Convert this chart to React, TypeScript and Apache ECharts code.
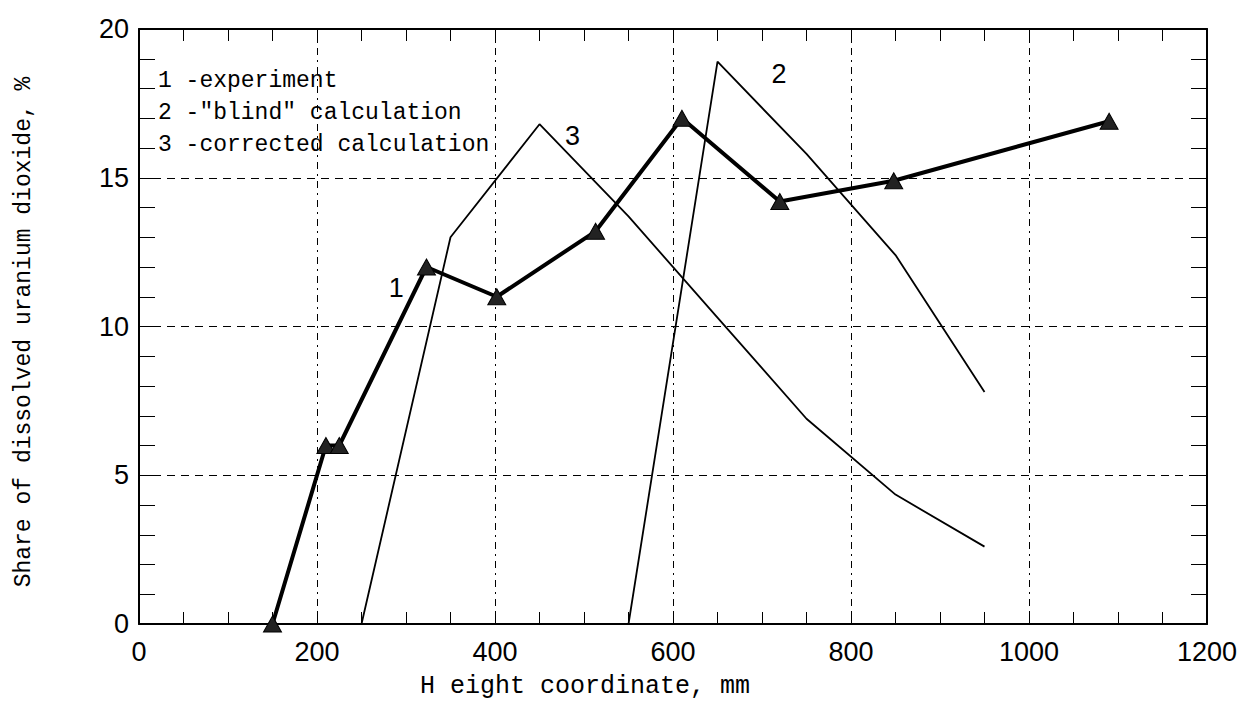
import React, { useEffect, useRef } from "react";
import * as echarts from "echarts";

const expX = [150, 210, 225, 323, 402, 513, 610, 720, 848, 1090];
const expY = [0, 6, 6, 12, 11, 13.2, 17, 14.2, 14.9, 16.9];

const blindX = [550, 650, 750, 850, 950];
const blindY = [0, 18.9, 15.8, 12.4, 7.8];

const corrX = [250, 350, 450, 550, 650, 750, 850, 950];
const corrY = [0, 13, 16.8, 13.7, 10.3, 6.9, 4.35, 2.6];

const legendLines = ['1 -experiment', '2 -"blind" calculation', '3 -corrected calculation'];
const curveLabels = [
  { name: "1", x: 289, y: 11.3 },
  { name: "2", x: 719, y: 18.5 },
  { name: "3", x: 487, y: 16.4 },
];

const xTitle = "H eight coordinate, mm";
const yTitle = "Share of dissolved uranium dioxide, %";

const zip = (xs: number[], ys: number[]) => xs.map((x, i) => [x, ys[i]]);

export default function App() {
  const ref = useRef<HTMLDivElement>(null);
  useEffect(() => {
    if (!ref.current) return;
    const chart = echarts.init(ref.current, null, { renderer: "svg" });
    const tickFont = { fontFamily: "Liberation Sans", fontSize: 27, color: "#000" };
    const serif = "Liberation Mono";
    const baseX = {
      type: "value" as const,
      min: 0,
      max: 1200,
      interval: 200,
      axisLine: { show: true, onZero: false, lineStyle: { color: "#000", width: 2 } },
      axisTick: { show: true, inside: true, length: 12, lineStyle: { color: "#000", width: 1 } },
      minorTick: { show: true, splitNumber: 4, length: 12, lineStyle: { color: "#000", width: 1 } },
    };
    const baseY = {
      type: "value" as const,
      min: 0,
      max: 20,
      interval: 5,
      axisLine: { show: true, onZero: false, lineStyle: { color: "#000", width: 2 } },
      axisTick: { show: true, inside: true, length: 16, lineStyle: { color: "#000", width: 1 } },
      minorTick: { show: true, splitNumber: 5, length: 16, lineStyle: { color: "#000", width: 1 } },
    };
    const markLabel = (i: number) => ({
      symbol: "circle",
      symbolSize: 0,
      label: { show: true, ...tickFont, fontSize: 27, formatter: "{b}" },
      data: [{ name: curveLabels[i].name, coord: [curveLabels[i].x, curveLabels[i].y] }],
    });
    chart.setOption({
      animation: false,
      backgroundColor: "#fff",
      grid: { left: 139, right: 45, top: 29, bottom: 85 },
      xAxis: [
        {
          ...baseX,
          position: "bottom",
          axisLabel: { ...tickFont, margin: 14, formatter: (v: number) => String(v) },
          splitLine: { show: true, lineStyle: { color: "#000", width: 1, type: [7, 5, 2, 5] } },
        },
        {
          ...baseX,
          position: "top",
          axisLabel: { show: false },
          splitLine: { show: false },
        },
      ],
      yAxis: [
        {
          ...baseY,
          position: "left",
          axisLabel: { ...tickFont, margin: 10 },
          splitLine: { show: true, lineStyle: { color: "#000", width: 1.2, type: [8, 6] } },
        },
        {
          ...baseY,
          position: "right",
          axisLabel: { show: false },
          splitLine: { show: false },
        },
      ],
      series: [
        {
          type: "line",
          data: zip(blindX, blindY),
          showSymbol: false,
          symbol: "none",
          lineStyle: { color: "#000", width: 1.8 },
          z: 3,
          markPoint: markLabel(1),
        },
        {
          type: "line",
          data: zip(corrX, corrY),
          showSymbol: false,
          symbol: "none",
          lineStyle: { color: "#000", width: 1.8 },
          z: 3,
          markPoint: markLabel(2),
        },
        {
          type: "line",
          data: zip(expX, expY),
          symbol: "triangle",
          symbolSize: [18, 16],
          showAllSymbol: true,
          itemStyle: { color: "#222", borderColor: "#000", borderWidth: 1 },
          lineStyle: { color: "#000", width: 4 },
          z: 4,
          markPoint: markLabel(0),
        },
      ],
      graphic: [
        ...legendLines.map((t, i) => ({
          type: "text",
          left: 158,
          top: 69 + i * 32,
          z: 10,
          style: {
            text: t,
            fontFamily: serif,
            fontSize: 23,
            fill: "#000",
          },
        })),
        {
          type: "text",
          left: 420,
          top: 674,
          style: { text: xTitle, fontFamily: serif, fontSize: 25, fill: "#000" },
        },
        {
          type: "text",
          x: 12,
          y: 332,
          rotation: Math.PI / 2,
          style: {
            text: yTitle,
            fontFamily: serif,
            fontSize: 23,
            fill: "#000",
            align: "center",
            verticalAlign: "top",
          },
        },
      ],
    });
    return () => chart.dispose();
  }, []);
  return (
    <div
      ref={ref}
      style={{ position: "fixed", left: 0, top: 0, width: 1252, height: 709 }}
    />
  );
}
